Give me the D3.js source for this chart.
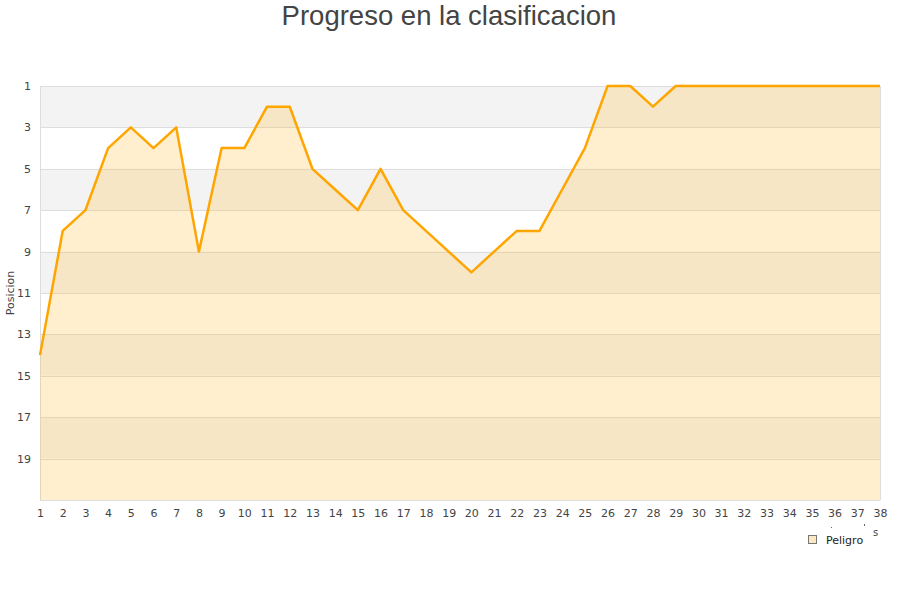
<!DOCTYPE html>
<html><head><meta charset="utf-8">
<script src="https://cdn.jsdelivr.net/npm/d3@7/dist/d3.min.js"></script>
<style>body{margin:0;background:#fff}svg{display:block}</style>
</head><body>
<svg id="c" width="900" height="600"></svg>
<script>
const jornadas = d3.range(1, 39);
const posiciones = [14,8,7,4,3,4,3,9,4,4,2,2,5,6,7,5,7,8,9,10,9,8,8,6,4,1,1,2,1,1,1,1,1,1,1,1,1,1];
const yTicks = [1,3,5,7,9,11,13,15,17,19];
const titulo = "Progreso en la clasificacion";
const ejeY = "Posicion";
const leyenda = "Peligro";

const svg = d3.select("#c");
const L = 40, R = 880, T = 86, B = 500;
const x = d3.scaleLinear().domain([1, 38]).range([L, R]);
const y = d3.scaleLinear().domain([1, 21]).range([T, B]);

// bands
const bands = d3.range(1, 21, 2);
svg.selectAll("rect.band").data(bands).join("rect")
  .attr("x", L).attr("width", R - L)
  .attr("y", d => y(d)).attr("height", d => y(d + 2) - y(d))
  .attr("fill", (d, i) => i % 2 === 0 ? "#f3f3f3" : "#ffffff");

// grid lines
svg.selectAll("line.grid").data(yTicks.concat([21])).join("line")
  .attr("x1", L).attr("x2", R)
  .attr("y1", d => Math.round(y(d)) + 0.5).attr("y2", d => Math.round(y(d)) + 0.5)
  .attr("stroke", "#dddddd").attr("stroke-width", 1);
// vertical borders
[L, R].forEach(v => svg.append("line").attr("x1", v + 0.5).attr("x2", v + 0.5)
  .attr("y1", T).attr("y2", B).attr("stroke", "#dddddd"));

const data = jornadas.map((j, i) => ({j, p: posiciones[i]}));
const area = d3.area().x(d => x(d.j)).y0(y(21)).y1(d => y(d.p));
svg.append("path").datum(data).attr("d", area)
  .attr("fill", "rgba(255,190,60,0.25)");
const line = d3.line().x(d => x(d.j)).y(d => y(d.p));
svg.append("path").datum(data).attr("d", line)
  .attr("fill", "none").attr("stroke", "#ffa500").attr("stroke-width", 2.5)
  .attr("stroke-linejoin", "round");

// axes labels
const xAxis = d3.axisBottom(x).tickValues(jornadas).tickSize(0).tickPadding(9).tickFormat(d3.format("d"));
const gx = svg.append("g").attr("transform", `translate(0,${B})`).call(xAxis);
gx.select(".domain").remove();
gx.selectAll("text").attr("font-family", "DejaVu Sans, sans-serif").attr("font-size", 11).attr("fill", "#444");

const yAxis = d3.axisLeft(y).tickValues(yTicks).tickSize(0).tickPadding(9);
const gy = svg.append("g").attr("transform", `translate(${L},0)`).call(yAxis);
gy.select(".domain").remove();
gy.selectAll("text").attr("font-family", "DejaVu Sans, sans-serif").attr("font-size", 11).attr("fill", "#444");

svg.append("text").attr("transform", "translate(14,293) rotate(-90)")
  .attr("text-anchor", "middle").attr("font-family", "DejaVu Sans, sans-serif")
  .attr("font-size", 11).attr("fill", "#444").text(ejeY);

svg.append("text").attr("x", 449).attr("y", 25).attr("text-anchor", "middle")
  .attr("font-family", "Liberation Sans, Arial, sans-serif").attr("font-size", 27.5)
  .attr("fill", "#444").text(titulo);

// clipped axis title remnant
svg.append("text").attr("x", 873).attr("y", 536).attr("font-family", "DejaVu Sans, sans-serif")
  .attr("font-size", 10).attr("fill", "#444").text("s");
svg.append("rect").attr("x", 831).attr("y", 527).attr("width", 1).attr("height", 1).attr("fill", "#666");
svg.append("rect").attr("x", 864).attr("y", 524).attr("width", 1).attr("height", 2).attr("fill", "#666");

// legend
svg.append("rect").attr("x", 808.5).attr("y", 535.5).attr("width", 8).attr("height", 8)
  .attr("fill", "#fde8c2").attr("stroke", "#777").attr("stroke-width", 1);
svg.append("text").attr("x", 826).attr("y", 543.5).attr("font-family", "DejaVu Sans, sans-serif")
  .attr("font-size", 11).attr("fill", "#222").text(leyenda);
</script>
</body></html>
